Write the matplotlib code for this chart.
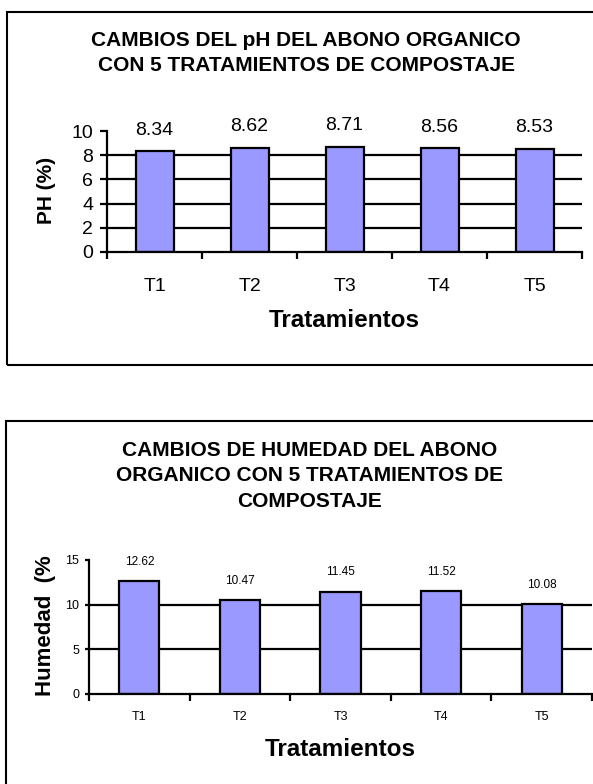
import matplotlib
matplotlib.use('Agg')
import matplotlib.pyplot as plt
from matplotlib.patches import Rectangle

plt.rcParams['font.family'] = ['Liberation Sans', 'DejaVu Sans']

# Data
tratamientos = ['T1', 'T2', 'T3', 'T4', 'T5']
ph_values = [8.34, 8.62, 8.71, 8.56, 8.53]
humedad_values = [12.62, 10.47, 11.45, 11.52, 10.08]

ph_title = 'CAMBIOS DEL pH DEL ABONO ORGANICO\nCON 5 TRATAMIENTOS DE COMPOSTAJE'
hum_title = 'CAMBIOS DE HUMEDAD DEL ABONO\nORGANICO CON 5 TRATAMIENTOS DE\nCOMPOSTAJE'

W, H = 593, 784
fig = plt.figure(figsize=(W / 100, H / 100), dpi=100)
BAR_COLOR = '#9999FF'
LW = 1.6


def px_axes(left, right, top, bottom):
    return fig.add_axes([left / W, 1 - bottom / H, (right - left) / W, (bottom - top) / H])


def frame(left, top, right, bottom):
    fig.patches.append(Rectangle((left / W, 1 - bottom / H), (right - left) / W, (bottom - top) / H,
                                 transform=fig.transFigure, fill=False, lw=1.5, ec='black'))


def panel(ax, values, ymax, ystep, grid, tick_fs, ytick_len, ytick_pad,
          xtick_fs, xtick_pad, value_fs, value_off):
    n = len(values)
    x = list(range(n))
    ax.hlines(grid, -0.5, n - 0.5, colors='black', linewidth=LW, zorder=1)
    ax.bar(x, values, width=0.4, color=BAR_COLOR, edgecolor='black', linewidth=LW, zorder=2)
    for xi, v in zip(x, values):
        ax.annotate(f'{v:.2f}', (xi, v), xytext=(0, value_off), textcoords='offset points',
                    ha='center', va='center', fontsize=value_fs)
    ax.set_xlim(-0.5, n - 0.5)
    ax.set_ylim(0, ymax)
    ax.set_yticks([i * ystep for i in range(int(ymax / ystep) + 1)])
    ax.tick_params(axis='y', direction='out', length=ytick_len, width=LW,
                   labelsize=tick_fs, pad=ytick_pad)
    ax.set_xticks(x)
    ax.set_xticklabels(tratamientos)
    ax.set_xticks([i - 0.5 for i in range(n + 1)], minor=True)
    ax.tick_params(axis='x', which='major', length=0, labelsize=xtick_fs, pad=xtick_pad)
    ax.tick_params(axis='x', which='minor', direction='out', length=5, width=LW)
    for s in ('top', 'right'):
        ax.spines[s].set_visible(False)
    for s in ('left', 'bottom'):
        ax.spines[s].set_linewidth(LW)
        ax.spines[s].set_zorder(3)
    ax.set_facecolor('none')


# pH chart
frame(7, 12, 620, 365)
ax1 = px_axes(107, 582, 131, 252)
panel(ax1, ph_values, 10, 2, [2, 4, 6, 8], 14, 5, 5, 14, 19, 14, 15)
fig.text(306 / W, 1 - 53 / H, ph_title, ha='center', va='center', fontsize=15,
         fontweight='bold', linespacing=1.42)
fig.text(47 / W, 1 - 190 / H, 'PH (%)', ha='center', va='center', rotation=90,
         fontsize=15, fontweight='bold')
fig.text(344 / W, 1 - 321 / H, 'Tratamientos', ha='center', va='center', fontsize=17.5,
         fontweight='bold')

# Humedad chart
frame(6, 421, 620, 800)
ax2 = px_axes(89, 592, 560, 694)
panel(ax2, humedad_values, 15, 5, [5, 10], 9, 3, 4, 9, 12, 8.5, 14)
fig.text(310 / W, 1 - 476 / H, hum_title, ha='center', va='center', fontsize=15,
         fontweight='bold', linespacing=1.42)
fig.text(46 / W, 1 - 626 / H, 'Humedad  (%', ha='center', va='center', rotation=90,
         fontsize=16, fontweight='bold')
fig.text(340 / W, 1 - 749 / H, 'Tratamientos', ha='center', va='center', fontsize=17.5,
         fontweight='bold')

fig.savefig('out.png', dpi=100, facecolor='white')
